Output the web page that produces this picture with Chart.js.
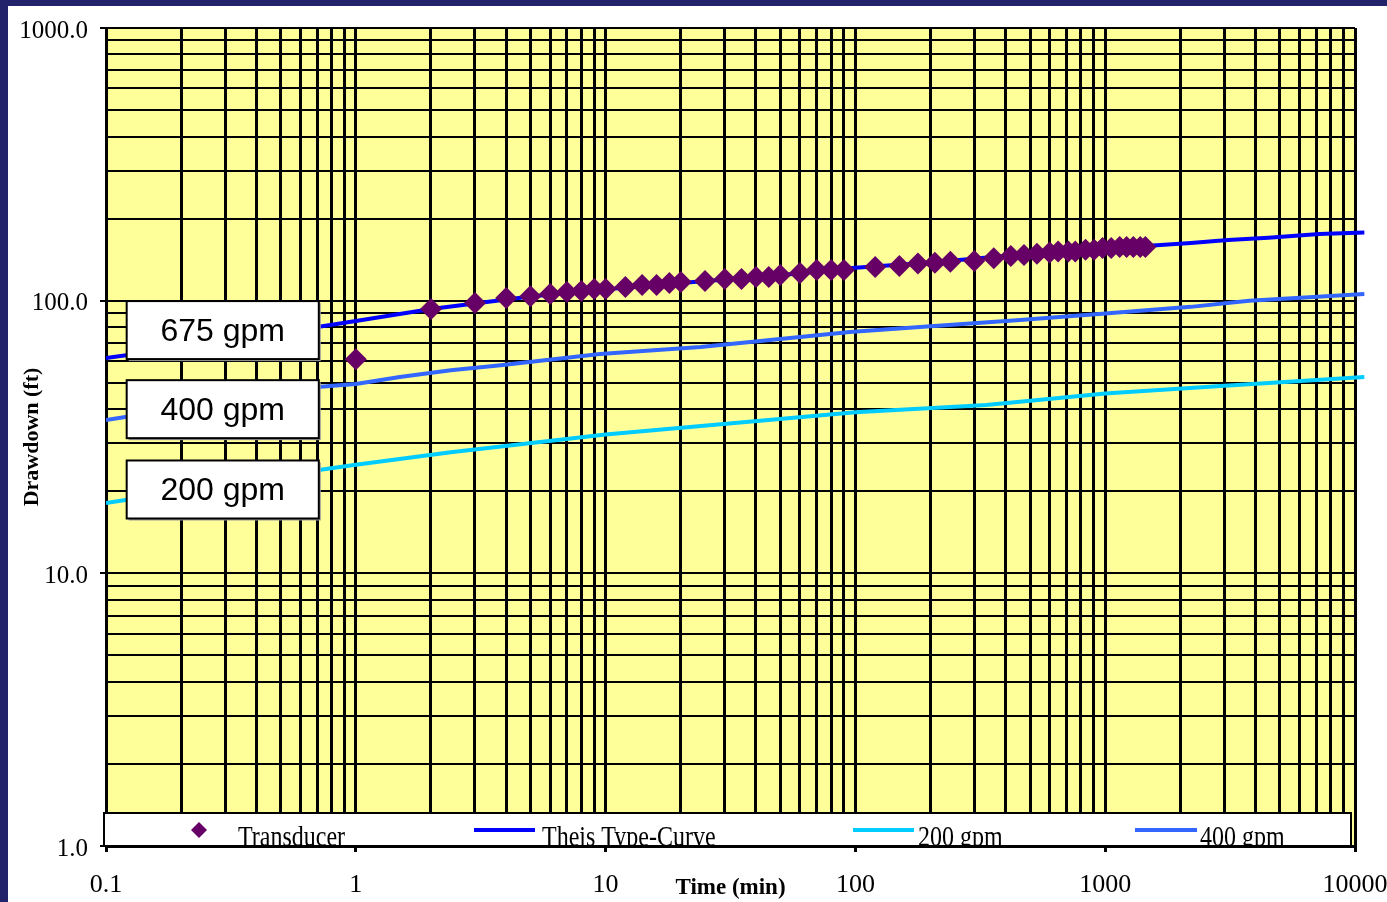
<!DOCTYPE html>
<html>
<head>
<meta charset="utf-8">
<script src="https://cdn.jsdelivr.net/npm/chart.js@4.4.1/dist/chart.umd.min.js"></script>
<style>
html, body { margin: 0; padding: 0; background: #23236b; }
body { width: 1387px; height: 902px; overflow: hidden; position: relative; }
#wrap { position: absolute; left: 8px; top: 6px; width: 1379px; height: 896px; background: #fff; }
canvas { display: block; }
</style>
</head>
<body>
<div id="wrap"><canvas id="chart" width="1379" height="896"></canvas></div>
<script>
// measured drawdown (transducer)
const transTime = [1, 2, 3, 4, 5, 6, 7, 8, 9, 10, 12, 14, 16, 18, 20, 25, 30, 35, 40, 45, 50, 60, 70, 80, 90,
  120, 150, 178, 208, 240, 299, 358, 419, 473, 533, 599, 648, 712, 759, 834, 903, 976, 1057, 1143, 1218, 1296, 1381, 1448];
const transDrawdown = [61, 93.2, 98, 102.3, 103.9, 105.7, 107.5, 108.4, 110.3, 110.3, 112.2, 114.1, 114.1, 116.1, 117, 118, 120, 120, 122.1, 122.1, 124.1, 126.3, 129.5, 129.5, 129.5,
  133, 134, 137, 137.7, 139, 139.7, 143, 145.9, 147.2, 148.5, 150.3, 151.4, 151.4, 151.4, 153.7, 153.7, 156, 156, 157.4, 157.4, 157.4, 157.4, 157.4];

// Theis type-curve (675 gpm)
const theisTime = [0.1, 0.2, 0.5, 1, 2, 5, 10, 20, 50, 100, 200, 500, 1000, 1500, 2200, 3100, 4500, 7200, 10900];
const theisDrawdown = [61.6, 67.2, 76.3, 84.2, 93.2, 103.6, 110, 116, 124, 132, 138, 148.5, 155, 159, 162.6, 166.8, 170.1, 175.5, 178];

// 400 gpm curve
const gpm400Time = [0.1, 0.7, 1, 1.5, 2.4, 3.8, 9.5, 24, 60, 95, 200, 457, 1000, 2200, 3770, 10900];
const gpm400Drawdown = [36.5, 48.2, 49.5, 52.5, 55.6, 58, 63.7, 67.6, 73.6, 76.7, 80.5, 85, 89.8, 94.9, 100, 105.7];

// 200 gpm curve
const gpm200Time = [0.1, 0.7, 1, 2.4, 10, 100, 334, 1000, 2800, 10900];
const gpm200Drawdown = [18.1, 23.9, 25, 27.8, 32.3, 39, 41.4, 45.7, 48.5, 52.5];

const seriesNames = ['Transducer', 'Theis Type-Curve', '200 gpm', '400 gpm'];
const boxLabels = ['675 gpm', '400 gpm', '200 gpm'];

const xMajor = [0.1, 1, 10, 100, 1000, 10000];
const xTickLabels = ['0.1', '1', '10', '100', '1000', '10000'];
const yMajor = [1, 10, 100, 1000];
const yTickLabels = ['1.0', '10.0', '100.0', '1000.0'];

function logGrid(majors) {
    const out = [];
    for (let i = 0; i < majors.length - 1; i++) {
        for (let m = 1; m < 10; m++) out.push(Number((m * majors[i]).toPrecision(3)));
    }
    out.push(majors[majors.length - 1]);
    return out;
}
const xGrid = logGrid(xMajor);
const yGrid = logGrid(yMajor);

function pts(xs, ys) {
    return xs.map((x, i) => ({ x: x, y: ys[i] }));
}

const serif = 'Liberation Serif, Times New Roman, serif';

const plotBg = {
    id: 'plotBg',
    beforeDraw(chart) {
        const a = chart.chartArea, c = chart.ctx;
        c.save();
        c.fillStyle = '#ffff99';
        c.fillRect(a.left, a.top, a.right - a.left, a.bottom - a.top);
        c.restore();
    }
};

const gpmBoxes = {
    id: 'gpmBoxes',
    afterDatasetsDraw(chart) {
        const c = chart.ctx, xs = chart.scales.x, ys = chart.scales.y;
        const anchors = [78, 40, 20.3];
        const l = xs.getPixelForValue(0.121), r = xs.getPixelForValue(0.711);
        c.save();
        boxLabels.forEach((txt, i) => {
            const cy = ys.getPixelForValue(anchors[i]);
            const t = cy - 29, h = 58;
            c.fillStyle = '#9a9a9a';
            c.fillRect(l + 2, t + 2, r - l, h);
            c.fillStyle = '#fff';
            c.fillRect(l, t, r - l, h);
            c.strokeStyle = '#000';
            c.lineWidth = 2;
            c.strokeRect(l, t, r - l, h);
            c.fillStyle = '#000';
            c.font = '32px Liberation Sans, Arial, sans-serif';
            c.textAlign = 'center';
            c.textBaseline = 'middle';
            c.fillText(txt, (l + r) / 2, cy + 2);
        });
        c.restore();
    }
};

const bottomLegend = {
    id: 'bottomLegend',
    afterDatasetsDraw(chart) {
        const c = chart.ctx, a = chart.chartArea, ds = chart.data.datasets;
        const left = a.left - 2, right = a.right - 4, top = a.bottom - 33, bottom = a.bottom;
        c.save();
        c.fillStyle = '#fff';
        c.fillRect(left, top, right - left, bottom - top);
        c.strokeStyle = '#000';
        c.lineWidth = 2;
        c.strokeRect(left, top, right - left, bottom - top);
        c.beginPath();
        c.rect(left, top, right - left, bottom - top);
        c.clip();
        const cy = top + 17;
        // diamond marker
        const dx = a.left + 93;
        c.fillStyle = ds[0].backgroundColor;
        c.beginPath();
        c.moveTo(dx, cy - 8); c.lineTo(dx + 8, cy); c.lineTo(dx, cy + 8); c.lineTo(dx - 8, cy);
        c.closePath();
        c.fill();
        // line samples
        const samples = [[1, 368, 429], [2, 747, 808], [3, 1029, 1091]];
        c.lineWidth = 4;
        samples.forEach(s => {
            c.strokeStyle = ds[s[0]].borderColor;
            c.beginPath();
            c.moveTo(a.left + s[1], cy);
            c.lineTo(a.left + s[2], cy);
            c.stroke();
        });
        // text is vertically stretched and cut off by the axis, as in the source
        c.fillStyle = '#000';
        c.font = '24px ' + serif;
        c.textBaseline = 'alphabetic';
        c.textAlign = 'left';
        const textX = [132, 436, 812, 1094];
        c.translate(0, bottom);
        c.scale(1, 1.2);
        seriesNames.forEach((n, i) => c.fillText(n, a.left + textX[i], 0));
        c.restore();
    }
};

const ctx = document.getElementById('chart').getContext('2d');
const myChart = new Chart(ctx, {
    type: 'scatter',
    data: {
        datasets: [{
            label: seriesNames[0],
            data: pts(transTime, transDrawdown),
            backgroundColor: '#660066',
            borderColor: '#660066',
            pointStyle: 'rectRot',
            pointRadius: 11,
            borderWidth: 0,
            showLine: false
        }, {
            label: seriesNames[1],
            data: pts(theisTime, theisDrawdown),
            borderColor: '#0000ff',
            backgroundColor: '#0000ff',
            borderWidth: 4,
            pointRadius: 0,
            showLine: true,
            clip: { left: 0, top: 0, right: 12, bottom: 0 }
        }, {
            label: seriesNames[2],
            data: pts(gpm200Time, gpm200Drawdown),
            borderColor: '#00ccff',
            backgroundColor: '#00ccff',
            borderWidth: 4,
            pointRadius: 0,
            showLine: true,
            clip: { left: 0, top: 0, right: 12, bottom: 0 }
        }, {
            label: seriesNames[3],
            data: pts(gpm400Time, gpm400Drawdown),
            borderColor: '#3366ff',
            backgroundColor: '#3366ff',
            borderWidth: 4,
            pointRadius: 0,
            showLine: true,
            clip: { left: 0, top: 0, right: 12, bottom: 0 }
        }]
    },
    options: {
        responsive: false,
        animation: false,
        devicePixelRatio: 1,
        layout: { padding: { left: 0, top: 22, right: 32, bottom: 0 } },
        plugins: {
            legend: { display: false },
            tooltip: { enabled: false }
        },
        scales: {
            x: {
                type: 'logarithmic',
                position: 'bottom',
                min: 0.1,
                max: 10000,
                afterBuildTicks: s => { s.ticks = xGrid.map(v => ({ value: v })); },
                afterFit: s => { s.height = 56; s.paddingLeft = 0; s.paddingRight = 0; },
                ticks: {
                    autoSkip: false,
                    maxRotation: 0,
                    padding: 18,
                    color: '#000',
                    font: { family: serif, size: 26 },
                    callback: v => { const i = xMajor.indexOf(v); return i >= 0 ? xTickLabels[i] : ''; }
                },
                grid: {
                    color: '#000',
                    lineWidth: 3,
                    tickLength: 6,
                    tickWidth: 3,
                    tickColor: c => (c.tick && xMajor.includes(c.tick.value)) ? '#000' : 'rgba(0,0,0,0)'
                },
                border: { color: '#000', width: 3 },
                title: {
                    display: true,
                    text: 'Time (min)',
                    color: '#000',
                    font: { family: serif, size: 23, weight: 'bold' },
                    padding: { top: 0, bottom: 0 }
                }
            },
            y: {
                type: 'logarithmic',
                min: 1,
                max: 1000,
                afterBuildTicks: s => { s.ticks = yGrid.map(v => ({ value: v })); },
                afterFit: s => { s.width = 98; s.paddingTop = 0; s.paddingBottom = 0; },
                ticks: {
                    autoSkip: false,
                    padding: 12,
                    labelOffset: 3,
                    color: '#000',
                    font: { family: serif, size: 25 },
                    callback: v => { const i = yMajor.indexOf(v); return i >= 0 ? yTickLabels[i] : ''; }
                },
                grid: {
                    color: '#000',
                    lineWidth: 2,
                    tickLength: 6,
                    tickWidth: 2,
                    tickColor: c => (c.tick && yMajor.includes(c.tick.value)) ? '#000' : 'rgba(0,0,0,0)'
                },
                border: { color: '#000', width: 3 },
                title: {
                    display: true,
                    text: 'Drawdown (ft)',
                    color: '#000',
                    font: { family: serif, size: 22, weight: 'bold' },
                    padding: { top: 11, bottom: 0 }
                }
            }
        }
    },
    plugins: [plotBg, gpmBoxes, bottomLegend]
});
</script>
</body>
</html>
